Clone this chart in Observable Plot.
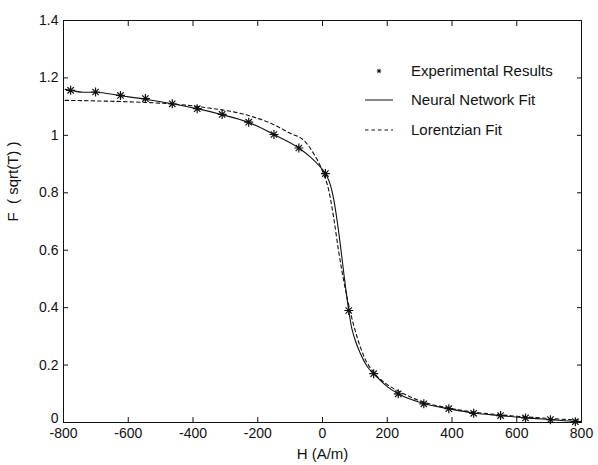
<!DOCTYPE html>
<html><head><meta charset="utf-8">
<script src="https://cdn.jsdelivr.net/npm/d3@7"></script>
<script src="https://cdn.jsdelivr.net/npm/@observablehq/plot@0.6"></script>
<style>body{margin:0;background:#fff}</style>
</head><body><div id="chart"></div>
<script>
// Experimental results (stars)
const expH = [-778, -701, -624, -547, -464, -387, -310, -228, -150, -73, 9, 81, 158, 234, 313, 390, 467, 550, 627, 704, 781];
const expF = [1.157, 1.151, 1.139, 1.128, 1.110, 1.093, 1.073, 1.046, 1.003, 0.956, 0.867, 0.390, 0.170, 0.100, 0.065, 0.048, 0.032, 0.024, 0.016, 0.010, 0.003];
// Neural network fit (solid)
const nnH = [-795, -778, -740, -701, -624, -547, -464, -387, -310, -228, -150, -73, -37, -11, 9, 25, 35, 45, 56, 66, 81, 90, 100, 117, 138, 158, 200, 234, 313, 390, 467, 550, 627, 704, 781, 800];
const nnF = [1.160, 1.157, 1.150, 1.150, 1.138, 1.126, 1.110, 1.093, 1.072, 1.045, 1.003, 0.956, 0.924, 0.895, 0.867, 0.825, 0.775, 0.704, 0.611, 0.518, 0.390, 0.330, 0.290, 0.240, 0.195, 0.170, 0.125, 0.100, 0.066, 0.048, 0.033, 0.024, 0.016, 0.010, 0.004, 0.003];
// Lorentzian fit (dashed)
const lzH = [-795, -700, -600, -500, -420, -350, -300, -228, -150, -100, -58, -27, -1, 20, 35, 50, 71, 87, 107, 130, 160, 200, 240, 300, 400, 500, 600, 700, 800];
const lzF = [1.122, 1.120, 1.117, 1.112, 1.105, 1.095, 1.087, 1.069, 1.037, 1.007, 0.983, 0.936, 0.878, 0.805, 0.710, 0.595, 0.462, 0.380, 0.297, 0.225, 0.172, 0.132, 0.106, 0.076, 0.048, 0.032, 0.022, 0.014, 0.008];

const xTicks = [-800, -600, -400, -200, 0, 200, 400, 600, 800];
const yTicks = [0.2, 0.4, 0.6, 0.8, 1, 1.2, 1.4];
const yZeroTick = [0];
const xLabel = "H (A/m)";
const yLabel = "F  ( sqrt(T) )";
const legendLabels = ["Experimental Results", "Neural Network Fit", "Lorentzian Fit"];

const exp = expH.map((h, i) => ({h, f: expF[i]}));
const nn = nnH.map((h, i) => ({h, f: nnF[i]}));
const lz = lzH.map((h, i) => ({h, f: lzF[i]}));

// Matlab-style '*' marker: plus + cross
const star = {
  draw(ctx, size) {
    const r = Math.sqrt(size / Math.PI), d = r * Math.SQRT1_2;
    ctx.moveTo(-r, 0); ctx.lineTo(r, 0);
    ctx.moveTo(0, -r); ctx.lineTo(0, r);
    ctx.moveTo(-d, -d); ctx.lineTo(d, d);
    ctx.moveTo(-d, d); ctx.lineTo(d, -d);
  }
};

const legend = (index, scales, values, dims) => {
  const g = d3.create("svg:g").attr("font-size", 15).attr("fill", "#111").attr("text-anchor", "start");
  const right = dims.width - dims.marginRight;
  const cx = right - 202, tx = right - 170, top = dims.marginTop;
  const rows = [top + 51, top + 80, top + 110];
  g.append("path").attr("transform", `translate(${cx},${rows[0]})`)
    .attr("d", d3.symbol(star, Math.PI * 2.2 * 2.2)()).attr("stroke", "#111").attr("fill", "none");
  g.append("line").attr("x1", cx - 14).attr("x2", cx + 14).attr("y1", rows[1]).attr("y2", rows[1]).attr("stroke", "#111");
  g.append("line").attr("x1", cx - 14).attr("x2", cx + 14).attr("y1", rows[2]).attr("y2", rows[2]).attr("stroke", "#111").attr("stroke-dasharray", "3.5,3");
  legendLabels.forEach((t, i) => g.append("text").attr("x", tx).attr("y", rows[i]).attr("dy", "0.35em").attr("text-anchor", "start").text(t));
  return g.node();
};

const chart = Plot.plot({
  width: 598, height: 465,
  marginLeft: 63, marginRight: 17, marginTop: 20, marginBottom: 43,
  style: {fontFamily: "'Liberation Sans', Arial, sans-serif", fontSize: "14px", color: "#111", background: "#fff"},
  x: {domain: [-800, 800]},
  y: {domain: [0, 1.4]},
  marks: [
    Plot.frame({stroke: "#111"}),
    Plot.axisX(xTicks, {anchor: "bottom", tickSize: -5, tickPadding: 11, tickFormat: d => String(d), label: null}),
    Plot.axisX(xTicks, {anchor: "top", tickSize: -5, tickFormat: () => "", label: null}),
    Plot.axisY(yTicks, {anchor: "left", tickSize: -5, tickPadding: 10, tickFormat: d => String(d), label: null}),
    Plot.axisY(yZeroTick, {anchor: "left", tickSize: 0, tickPadding: 5, tickFormat: d => String(d), label: null, dy: -4}),
    Plot.axisY(yTicks, {anchor: "right", tickSize: -5, tickFormat: () => "", label: null}),
    Plot.text([xLabel], {frameAnchor: "bottom", dy: 32, fontSize: 15, lineAnchor: "middle", fill: "#111"}),
    Plot.text([yLabel], {frameAnchor: "left", dx: -50, rotate: -90, fontSize: 15, fill: "#111"}),
    Plot.line(lz, {x: "h", y: "f", stroke: "#111", strokeWidth: 1.1, strokeDasharray: "3.5,3", curve: "monotone-x"}),
    Plot.line(nn, {x: "h", y: "f", stroke: "#111", strokeWidth: 1.1, curve: "monotone-x"}),
    Plot.dot(exp, {x: "h", y: "f", symbol: star, r: 4.5, stroke: "#111", fill: "none", strokeWidth: 1.2}),
    legend
  ]
});
document.getElementById("chart").appendChild(chart);
</script>
</body></html>
